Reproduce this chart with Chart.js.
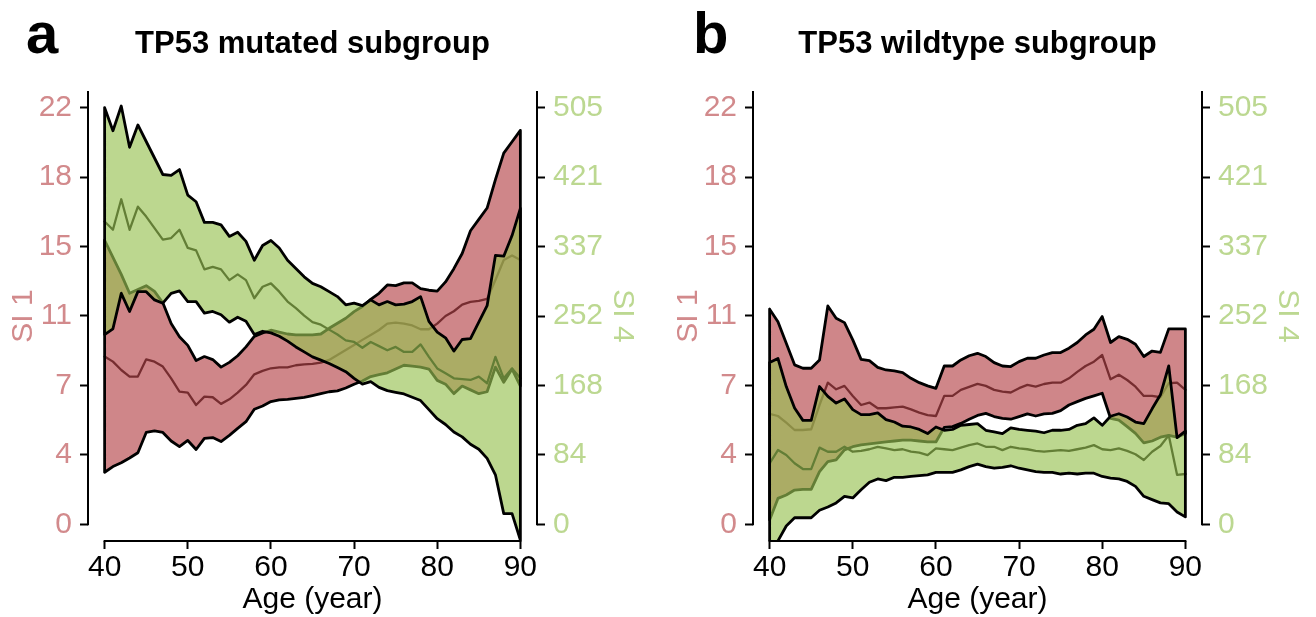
<!DOCTYPE html>
<html lang="en">
<head>
<meta charset="UTF-8">
<title>SI 1 / SI 4 by age, TP53 subgroups</title>
<style>
  body { margin: 0; background: #fff; font-family: 'Liberation Sans', Arial, sans-serif; }
  #wrap { position: relative; width: 1316px; height: 617px; overflow: hidden; }
  .panel { position: absolute; top: 0; width: 650px; height: 617px; }
  .panel canvas { display: block; }
  .letter { position: absolute; top: 4px; font-weight: bold; font-size: 58px; line-height: 58px; color: #000; }
  .title { position: absolute; top: 27px; left: 88px; width: 449px; text-align: center; font-weight: bold; font-size: 31px; line-height: 31px; white-space: nowrap; color: #000; }
</style>
<script src="https://cdn.jsdelivr.net/npm/chart.js"></script>
</head>
<body>
<div id="wrap">
  <div class="panel" style="left:0">
    <canvas id="chartA" width="650" height="617"></canvas>
    <div class="letter" style="left:26px">a</div>
    <div class="title">TP53 mutated subgroup</div>
  </div>
  <div class="panel" style="left:665px">
    <canvas id="chartB" width="650" height="617"></canvas>
    <div class="letter" style="left:28px">b</div>
    <div class="title">TP53 wildtype subgroup</div>
  </div>
</div>
<script>
// ages (x)
const ages = [40,41,42,43,44,45,46,47,48,49,50,51,52,53,54,55,56,57,58,59,60,61,62,63,64,65,66,67,68,69,70,71,72,73,74,75,76,77,78,79,80,81,82,83,84,85,86,87,88,89,90];

// axis ticks and their printed labels
const ageTicks = [40, 50, 60, 70, 80, 90];
const si1Ticks = [0, 3.667, 7.333, 11, 14.667, 18.333, 22];
const si1Labels = ['0', '4', '7', '11', '15', '18', '22'];
const si4Ticks = [0, 84.17, 168.33, 252.5, 336.67, 420.83, 505];
const si4Labels = ['0', '84', '168', '252', '337', '421', '505'];

// panel a - TP53 mutated (SI 1 = red band, SI 4 = green band)
const aRedLow = [2.75,3.05,3.25,3.5,3.78,4.85,4.93,4.85,4.4,4.1, 4.43,3.95,4.54,4.58,4.37,4.7,5.07,5.42,6.08,6.25, 6.48,6.57,6.6,6.65,6.7,6.8,6.9,7.0,7.05,7.2, 7.4,7.57,7.8,7.9,8.0,8.2,8.4,8.35,8.3,8.2, 7.6,7.4,6.9,7.3,7.1,6.9,7.0,8.3,7.5,8.2, 7.3];
const aRedMid = [8.86,8.59,8.15,7.8,7.8,8.71,8.59,8.33,7.71,7.01, 6.95,6.3,6.74,6.71,6.36,6.6,6.95,7.36,7.92,8.1, 8.24,8.29,8.29,8.4,8.45,8.47,8.54,8.68,8.94,9.21, 9.47,9.74,10.0,10.26,10.6,10.65,10.6,10.5,10.3,10.3, 10.6,11.0,11.25,11.6,11.75,11.8,11.9,12.9,13.96,14.2, 13.96];
const aRedUp = [15.0,14.1,13.2,12.2,12.4,12.6,12.3,11.7,10.6,9.9, 9.45,8.65,8.86,8.7,8.3,8.55,8.9,9.37,9.92,10.1, 10.25,10.15,10.05,10.0,10.0,10.0,10.05,10.35,10.62,10.88, 11.23,11.5,11.88,12.2,12.64,12.6,12.75,12.75,12.45,12.36, 12.31,12.8,13.5,14.3,15.5,16.1,16.7,18.2,19.6,20.2, 20.8];
const aGreenLow = [230,237,280,258,282,282,272,268,280,283, 270,270,256,258,254,245,251,246,230,234, 232,228,222,215,209,203,199,195,190,185, 177,170,173,166,162,160,158,154,150,139, 128,121,112,106,97,91,80,60,13,13, -19];
const aGreenMid = [367,357,394,357,385,373,359,345,347,357, 335,332,309,312,309,296,303,296,274,288, 292,282,270,262,253,245,242,236,230,223, 221,214,221,216,211,215,209,209,218,203, 189,183,177,176,175,179,171,203,177,189, 177];
const aGreenUp = [505,477,507,457,484,464,444,424,423,430, 399,391,366,366,363,349,354,343,320,338, 344,335,320,310,300,292,288,282,276,266, 268,265,272,266,270,266,267,270,276,246, 233,226,210,224,225,245,265,326,325,350, 383];

// panel b - TP53 wildtype
const bRedLow = [0.23,1.37,1.55,1.81,1.85,1.85,2.78,3.31,3.4,3.93, 4.1,4.2,4.25,4.3,4.35,4.4,4.45,4.45,4.4,4.35, 4.35,5.12,5.16,5.33,5.55,5.75,5.86,5.69,5.6,5.55, 5.69,5.83,5.72,5.83,5.86,6.0,6.3,6.48,6.65,6.78, 6.92,5.6,5.5,5.16,4.8,4.3,4.4,4.6,4.7,4.6, 4.8];
const bRedMid = [5.83,5.72,5.37,4.98,4.98,5.02,6.3,7.48,7.13,7.31, 6.78,6.3,6.43,6.13,6.13,6.18,6.21,6.07,5.9,5.77, 5.72,6.78,6.78,7.1,7.26,7.42,7.31,7.1,7.01,6.96, 7.19,7.36,7.27,7.41,7.48,7.48,7.71,8.05,8.36,8.59, 8.94,7.66,7.9,7.62,7.27,6.78,6.78,6.71,7.45,7.48, 7.1];
const bRedUp = [11.36,10.7,9.56,8.42,8.24,8.24,8.68,11.53,10.88,10.65, 9.74,8.71,8.64,8.29,8.15,8.1,8.01,7.71,7.48,7.31, 7.18,8.36,8.36,8.68,8.9,9.03,8.86,8.54,8.36,8.33, 8.59,8.77,8.77,8.94,9.07,9.07,9.3,9.6,10.0,10.3, 10.97,9.6,9.91,9.77,9.51,8.86,9.15,9.08,10.32,10.32, 10.32];
const bGreenLow = [-50,-20,-2,8,8,8,17,21,26,34, 32,42,51,55,53,57,57,58,59,60, 63,63,63,66,70,73,70,68,69,71, 68,66,64,63,63,61,62,61,62,62, 58,56,55,52,46,34,30,26,25,15, 9];
const bGreenMid = [74,90,84,74,67,67,93,88,88,94, 88,89,91,94,92,90,91,88,87,84, 92,91,90,93,96,98,94,94,90,94, 92,91,89,88,89,90,89,91,93,96, 91,90,92,89,85,78,88,95,108,60, 61];
const bGreenUp = [196,201,167,141,126,126,167,155,147,152, 139,133,133,135,127,124,119,118,115,110, 118,114,115,120,121,122,114,112,110,117, 115,114,113,111,114,114,115,120,122,129, 120,131,134,130,124,122,140,157,192,105, 113];

const RED_FILL = 'rgba(181,69,74,0.65)';
const GREEN_FILL = 'rgba(152,194,83,0.65)';
const RED_TEXT = '#d28a8c';
const GREEN_TEXT = '#bcd891';
const FONT = "'Liberation Sans', Arial, sans-serif";

Chart.defaults.font.family = FONT;

function pts(ys) {
  return ages.map((a, i) => ({ x: a, y: ys[i] }));
}

// closed polygon outline: upper edge forward, lower edge back
function outline(low, up) {
  const top = pts(up);
  const bottom = pts(low).reverse();
  return top.concat(bottom, [top[0]]);
}

function bandDatasets(rLow, rMid, rUp, gLow, gMid, gUp) {
  const none = 'rgba(0,0,0,0)';
  return [
    { data: pts(rMid), yAxisID: 'y', borderColor: '#000', borderWidth: 2.3, order: 8 },
    { data: pts(rLow), yAxisID: 'y', borderColor: none, borderWidth: 0, order: 7 },
    { data: pts(rUp), yAxisID: 'y', borderColor: none, borderWidth: 0, backgroundColor: RED_FILL, fill: 1, order: 6 },
    { data: outline(rLow, rUp), yAxisID: 'y', borderColor: '#000', borderWidth: 2.8, order: 5 },
    { data: pts(gMid), yAxisID: 'y1', borderColor: '#000', borderWidth: 2.3, order: 4 },
    { data: pts(gLow), yAxisID: 'y1', borderColor: none, borderWidth: 0, order: 3 },
    { data: pts(gUp), yAxisID: 'y1', borderColor: none, borderWidth: 0, backgroundColor: GREEN_FILL, fill: 5, order: 2 },
    { data: outline(gLow, gUp), yAxisID: 'y1', borderColor: '#000', borderWidth: 2.8, order: 1 }
  ];
}

// axis lines: x from first to last tick, y from 0 up to the top
const axisLines = {
  id: 'axisLines',
  afterDraw(chart) {
    const { ctx, chartArea: a, scales } = chart;
    ctx.save();
    ctx.strokeStyle = '#000';
    ctx.lineWidth = 2;
    ctx.beginPath();
    ctx.moveTo(scales.x.getPixelForValue(ageTicks[0]) - 1, a.bottom);
    ctx.lineTo(scales.x.getPixelForValue(ageTicks[ageTicks.length - 1]) + 1, a.bottom);
    ctx.moveTo(a.left, scales.y.getPixelForValue(si1Ticks[0]) + 1);
    ctx.lineTo(a.left, a.top);
    ctx.moveTo(a.right, scales.y1.getPixelForValue(si4Ticks[0]) + 1);
    ctx.lineTo(a.right, a.top);
    ctx.stroke();
    ctx.restore();
  }
};

function yAxis(pos, min, max, ticks, labels, color, title, width, titlePad) {
  return {
    type: 'linear', position: pos, min: min, max: max,
    afterFit: s => { s.width = width; },
    afterBuildTicks: s => { s.ticks = ticks.map(v => ({ value: v })); },
    grid: { drawOnChartArea: false, drawTicks: true, tickLength: 8, tickColor: '#000', tickWidth: 2 },
    border: { display: false },
    ticks: { color: color, font: { size: 30 }, padding: 8, autoSkip: false, callback: (v, i) => labels[i] },
    title: { display: true, text: title, color: color, font: { size: 30, lineHeight: 1 }, padding: { top: titlePad, bottom: 0 } }
  };
}

function makeChart(id, sets) {
  return new Chart(document.getElementById(id), {
    type: 'line',
    data: { datasets: sets },
    options: {
      responsive: false, animation: false, devicePixelRatio: 1, events: [],
      layout: { padding: { top: 91, left: 0, right: 0, bottom: 0 } },
      plugins: { legend: { display: false }, tooltip: { enabled: false } },
      elements: {
        point: { radius: 0 },
        line: { tension: 0, borderJoinStyle: 'round', borderCapStyle: 'round' }
      },
      scales: {
        x: {
          type: 'linear', min: 38, max: 92,
          afterFit: s => { s.height = 76; },
          afterBuildTicks: s => { s.ticks = ageTicks.map(v => ({ value: v })); },
          grid: { drawOnChartArea: false, drawTicks: true, tickLength: 8, tickColor: '#000', tickWidth: 2 },
          border: { display: false },
          ticks: { color: '#000', font: { size: 30 }, padding: 1, maxRotation: 0, autoSkip: false, callback: v => String(v) },
          title: { display: true, text: 'Age (year)', color: '#000', font: { size: 30, lineHeight: 1 }, padding: { top: 0, bottom: 2 } }
        },
        y: yAxis('left', -0.88, 22.88, si1Ticks, si1Labels, RED_TEXT, 'SI 1', 88, 9),
        y1: yAxis('right', -20.2, 525.2, si4Ticks, si4Labels, GREEN_TEXT, 'SI 4', 113, 13)
      }
    },
    plugins: [axisLines]
  });
}

makeChart('chartA', bandDatasets(aRedLow, aRedMid, aRedUp, aGreenLow, aGreenMid, aGreenUp));
makeChart('chartB', bandDatasets(bRedLow, bRedMid, bRedUp, bGreenLow, bGreenMid, bGreenUp));
</script>
</body>
</html>
